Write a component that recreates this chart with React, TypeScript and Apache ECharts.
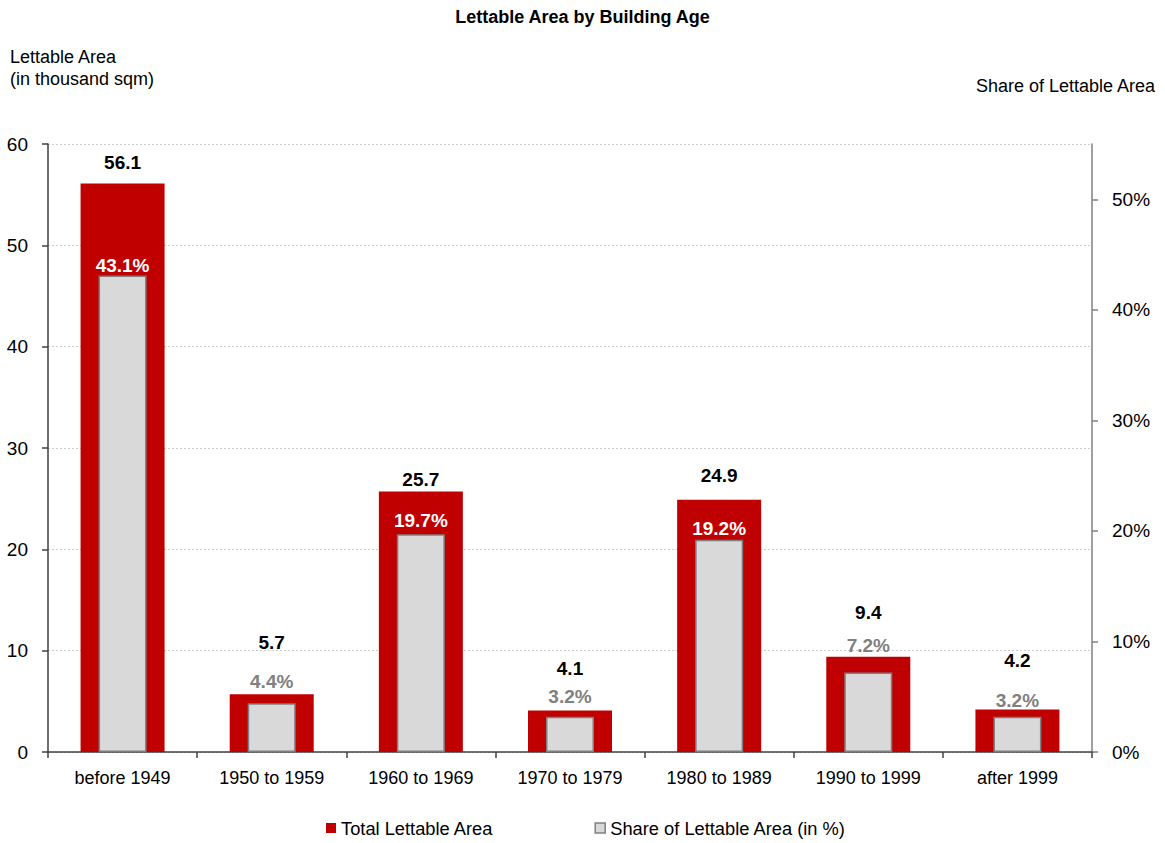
import React, { useEffect, useRef } from "react";
import * as echarts from "echarts";

const categories = [
  "before 1949",
  "1950 to 1959",
  "1960 to 1969",
  "1970 to 1979",
  "1980 to 1989",
  "1990 to 1999",
  "after 1999",
];
// Total lettable area, thousand sqm
const totalArea = [56.1, 5.7, 25.7, 4.1, 24.9, 9.4, 4.2];
// Share of lettable area, %
const shareArea = [43.1, 4.4, 19.7, 3.2, 19.2, 7.2, 3.2];
const leftTicks = [0, 10, 20, 30, 40, 50, 60];
const rightTicks = [0, 10, 20, 30, 40, 50];

// label lift above each bar top (px, to text centre)
const totalLift = [22, 52, 13, 42, 25, 45, 49];
const shareLift = [11, 22, 14, 21, 12, 27, 17];

const FONT = "'Liberation Sans Narrow', 'Arial Narrow', 'Liberation Sans', Arial, sans-serif";
const RED = "#C00000";
const GREY_FILL = "#D9D9D9";
const GREY_EDGE = "#7F7F7F";
const PLOT_H = 608;
const LEFT_MAX = 60;
const RIGHT_MAX = 55;

export default function App() {
  const ref = useRef<HTMLDivElement>(null);

  useEffect(() => {
    if (!ref.current) return;
    const chart = echarts.init(ref.current, undefined, { renderer: "svg" });

    const totalData = totalArea.map((v, i) => ({
      value: v,
      label: { distance: Math.max(0, totalLift[i] - 10) },
    }));
    const shareData = shareArea.map((v, i) => {
      const labelY = (v / RIGHT_MAX) * PLOT_H + shareLift[i];
      const redTop = (totalArea[i] / LEFT_MAX) * PLOT_H;
      const inside = labelY < redTop;
      return {
        value: v,
        label: {
          distance: Math.max(0, shareLift[i] - 10),
          color: inside ? "#FFFFFF" : "#808080",
        },
      };
    });

    chart.setOption({
      animation: false,
      textStyle: { fontFamily: FONT },
      title: {
        text: "Lettable Area by Building Age",
        left: "center",
        top: 3,
        textStyle: { fontFamily: FONT, fontSize: 18, fontWeight: "bold", color: "#000" },
      },
      grid: { left: 48, right: 73, top: 144, bottom: 91, containLabel: false },
      legend: {
        bottom: 1,
        left: 321,
        itemGap: 101,
        itemWidth: 10,
        itemHeight: 10,
        textStyle: { fontFamily: FONT, fontSize: 18.3, color: "#000" },
        data: [
          { name: "Total Lettable Area", icon: "rect" },
          {
            name: "Share of Lettable Area (in %)",
            icon: "rect",
            itemStyle: { color: GREY_FILL, borderColor: GREY_EDGE, borderWidth: 1.5 },
          },
        ],
      },
      xAxis: [
        {
          type: "category",
          data: categories,
          axisLine: { lineStyle: { color: "#404040", width: 1.5 } },
          axisTick: { show: true, length: 6, lineStyle: { color: "#404040", width: 1.5 } },
          axisLabel: { fontFamily: FONT, fontSize: 18, color: "#000", margin: 17 },
        },
        {
          type: "category",
          data: categories,
          show: false,
        },
      ],
      yAxis: [
        {
          type: "value",
          min: 0,
          max: LEFT_MAX,
          interval: 10,
          axisLine: { show: true, lineStyle: { color: "#404040", width: 1.5 } },
          axisTick: { show: true, length: 6, lineStyle: { color: "#404040", width: 1.5 } },
          axisLabel: {
            fontFamily: FONT,
            fontSize: 19,
            color: "#000",
            margin: 20,
            customValues: leftTicks,
          },
          splitLine: { show: true, lineStyle: { color: "#CDCDCD", type: [2, 2], width: 1 } },
        },
        {
          type: "value",
          min: 0,
          max: RIGHT_MAX,
          position: "right",
          axisLine: { show: true, lineStyle: { color: "#808080", width: 1.5 } },
          axisTick: {
            show: true,
            length: 6,
            lineStyle: { color: "#808080", width: 1.5 },
            customValues: rightTicks,
          },
          axisLabel: {
            fontFamily: FONT,
            fontSize: 19,
            color: "#000",
            margin: 20,
            customValues: rightTicks,
            formatter: (v: number) => `${v}%`,
          },
          splitLine: { show: false },
        },
      ],
      graphic: [
        {
          type: "text",
          left: 10,
          top: 46,
          style: {
            text: "Lettable Area\n(in thousand sqm)",
            font: `18px ${FONT}`,
            fill: "#000",
            lineHeight: 22,
          },
        },
        {
          type: "text",
          right: 9,
          top: 77,
          style: {
            text: "Share of Lettable Area",
            font: `18px ${FONT}`,
            fill: "#000",
          },
        },
      ],
      series: [
        {
          name: "Total Lettable Area",
          type: "bar",
          xAxisIndex: 0,
          yAxisIndex: 0,
          barWidth: 84,
          itemStyle: { color: RED },
          data: totalData,
          label: {
            show: true,
            position: "top",
            fontFamily: FONT,
            fontSize: 19,
            fontWeight: "bold",
            color: "#000",
            formatter: (p: any) => Number(p.value).toFixed(1),
          },
          z: 2,
        },
        {
          name: "Share of Lettable Area (in %)",
          type: "bar",
          xAxisIndex: 1,
          yAxisIndex: 1,
          barWidth: 48,
          itemStyle: { color: GREY_FILL, borderColor: GREY_EDGE, borderWidth: 1.5 },
          data: shareData,
          label: {
            show: true,
            position: "top",
            fontFamily: FONT,
            fontSize: 19,
            fontWeight: "bold",
            formatter: (p: any) => `${Number(p.value).toFixed(1)}%`,
          },
          z: 3,
        },
      ],
    });

    return () => chart.dispose();
  }, []);

  return (
    <div
      ref={ref}
      style={{ position: "fixed", left: 0, top: 0, width: 1165, height: 843, background: "#fff" }}
    />
  );
}
